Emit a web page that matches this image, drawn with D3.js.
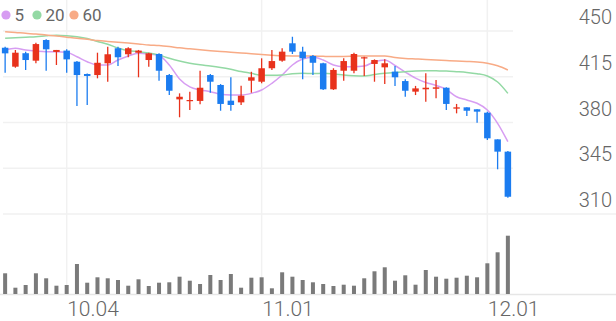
<!DOCTYPE html>
<html>
<head>
<meta charset="utf-8">
<script src="https://cdn.jsdelivr.net/npm/d3@7"></script>
<style>
  html, body { margin: 0; padding: 0; background: #fff; }
  svg { display: block; font-family: Roboto, "Noto Sans", sans-serif; }
</style>
</head>
<body>
<svg id="chart" width="616" height="321"></svg>
<script>
// ---- data ----
const opens  = [437.2,422.7,433,427.3,443.1,434,435,426.5,417.1,416.3,425.3,436.8,432.2,433.4,427.8,432.4,416.3,397.7,396.9,396.5,416.3,408.7,396.7,395.4,412,411.2,421.5,427.3,440.6,434.2,430.9,425.3,405.4,419.6,419.6,429.1,424.8,422.2,418.9,411.7,403.6,405.4,405.8,406.6,390.6,391.6,390.1,387.5,367.1,357.7];
const highs  = [438,435.5,434.2,441,443.7,435.5,436,427,417.5,433.4,438,438,437.5,435.5,433.4,432.9,417.1,402.3,403.6,419.6,417.1,409.4,414.6,408.2,418.8,429.1,435.5,436.8,445.6,438,431.6,425.7,421.5,429.1,433.4,430.3,428.3,428.3,423.2,413,408,417.6,412.5,406.9,394.2,391.6,390.1,388.3,367.1,358.2];
const lows   = [418,421.9,420.2,425.3,419.6,424,418,392.6,393.4,413.8,411.2,423.2,429.9,414.6,422.7,412,401,384,389.6,394,402.8,389,389,393.4,402.8,410,420.2,426.5,432.4,413,416.3,404.9,404.9,412,417.6,415.6,411.2,409.4,408,399.7,401,395.9,398.5,389.6,387,385,379.9,366.6,344.2,322.5];
const closes = [432.9,433.4,427.8,440,436,435.5,428.3,416.3,415.6,425.7,432.2,429.9,436.8,435,432.9,419.6,404.3,399.7,397.2,406.6,411.2,394.2,393.4,400.5,414.6,421.5,427,434.2,434.2,429.1,425.7,405.4,420.2,427,432.4,429.9,427.8,425.3,414.6,404.3,406.1,406.6,406.9,394.2,391.6,389,388.3,367.9,357.7,323.2];
const volumes = [207,63,90,207,157,83,90,300,113,167,157,140,83,147,80,113,117,173,133,100,190,140,200,63,163,167,57,217,173,140,117,100,80,93,83,157,227,267,133,187,93,240,173,153,163,183,167,307,417,583];
const ma5  = [435.5,436.8,435.5,434.7,434.2,434.2,433.7,430.3,426.5,424,424,427.8,430.9,432.9,432.4,431.3,424,413.3,407.2,404.9,403.6,401.6,401,401,402.3,404.9,410,416.3,424,428.6,429.9,427.8,424,422.7,422.7,423.2,426.5,427.8,423.6,418.6,414,410.6,408.3,405.2,399.7,397.2,394.7,389.6,379.4,365.3];
const ma20 = [444.4,444.9,445.3,445.6,446.3,446.8,446.4,445.6,444.3,442,439.9,437,434.9,434.2,433.2,431.6,429.1,427,425.3,424.1,423.2,422.1,420.7,419,417.6,416.1,416.1,416.3,417.3,417.6,417.5,417.6,417.1,416.3,415.8,415.6,416.7,417.6,418.3,418.9,419.4,419.6,419.5,419.4,418.9,418.3,417.3,415.6,411,402.3];
const ma60 = [449.5,448.9,448.2,447.7,446.9,446.2,445.3,444.4,443.7,442.7,442,441.4,440.8,440.1,439.3,438.9,438.1,437.1,436.4,435.6,434.9,434.3,433.8,433.2,432.6,432,431.5,431,430.9,430.9,430.9,430.6,430.4,430.5,430.7,430.9,430.9,430.9,429.7,429,428.6,428.2,427.8,427.4,427,426.7,426.3,425.3,423.4,420.2];
const priceTicks = [310, 345, 380, 415, 450];
const dateTickIndex = [6, 25, 47];
const dateTickLabels = ["10.04", "11.01", "12.01"];
const legendLabels = ["5", "20", "60"];

// ---- styles ----
const RED = "#e8321c", BLUE = "#1b7cf0";
const maColors = ["#d79df2", "#93d9a4", "#f8ab86"];
const gridColor = "#f1f1f1";

const svg = d3.select("#chart");
const n = closes.length;

const x = d3.scaleBand().domain(d3.range(n)).range([0, 513]).padding(0);
const cx = i => x(i) + x.bandwidth() / 2;
const y = d3.scaleLinear().domain([310, 450]).range([214, 31]);
const yv = d3.scaleLinear().domain([0, 750]).range([294, 219]);

// horizontal grid lines
svg.append("g").selectAll("line").data(priceTicks).join("line")
  .attr("x1", 3)
  .attr("x2", d => d === 310 ? 616 : 513)
  .attr("y1", d => y(d)).attr("y2", d => y(d))
  .attr("stroke", gridColor).attr("stroke-width", 1.5);

// vertical grid lines
svg.append("g").selectAll("line").data(dateTickIndex).join("line")
  .attr("x1", d => cx(d)).attr("x2", d => cx(d))
  .attr("y1", 0).attr("y2", 294)
  .attr("stroke", gridColor).attr("stroke-width", 1.5);

// volume baseline
svg.append("line")
  .attr("x1", 0).attr("x2", 616)
  .attr("y1", yv(0) + 0.5).attr("y2", yv(0) + 0.5)
  .attr("stroke", "#e6e6e6").attr("stroke-width", 1.5);

// price labels
svg.append("g").selectAll("text").data(priceTicks).join("text")
  .attr("x", 612).attr("y", d => y(d) - 7)
  .attr("text-anchor", "end")
  .attr("font-size", 20).attr("font-weight", 300)
  .attr("fill", "#666")
  .text(d => d);

// date labels
svg.append("g").selectAll("text").data(dateTickIndex).join("text")
  .attr("x", d => cx(d) + 0.5).attr("y", 316)
  .attr("font-size", 21).attr("font-weight", 300)
  .attr("fill", "#666")
  .text((d, i) => dateTickLabels[i]);

// moving average lines
const mas = [ma5, ma20, ma60];
const line = d3.line().x((d, i) => cx(i)).y(d => y(d)).curve(d3.curveMonotoneX);
svg.append("g").selectAll("path").data(mas).join("path")
  .attr("d", d => line(d))
  .attr("fill", "none")
  .attr("stroke", (d, i) => maColors[i])
  .attr("stroke-width", 1.5);

// candles
const idx = d3.range(n);
const col = i => closes[i] >= opens[i] ? RED : BLUE;
const cg = svg.append("g");
cg.selectAll("line").data(idx).join("line")
  .attr("x1", i => cx(i)).attr("x2", i => cx(i))
  .attr("y1", i => y(highs[i])).attr("y2", i => y(lows[i]))
  .attr("stroke", col).attr("stroke-width", 1.3);
const bw = 6.5;
cg.selectAll("rect").data(idx).join("rect")
  .attr("x", i => cx(i) - bw / 2)
  .attr("width", bw)
  .attr("y", i => y(Math.max(opens[i], closes[i])))
  .attr("height", i => Math.max(1.2, Math.abs(y(opens[i]) - y(closes[i]))))
  .attr("fill", col);

// volume bars
svg.append("g").selectAll("rect").data(volumes).join("rect")
  .attr("x", (d, i) => cx(i) - 2)
  .attr("width", 4)
  .attr("y", d => yv(d))
  .attr("height", d => yv(0) - yv(d))
  .attr("fill", "#7a7a7a");

// legend
const legX = [6, 37, 74];
const lg = svg.append("g");
lg.selectAll("circle").data(legendLabels).join("circle")
  .attr("cx", (d, i) => legX[i]).attr("cy", 15).attr("r", 4.6)
  .attr("fill", (d, i) => maColors[i]);
lg.selectAll("text").data(legendLabels).join("text")
  .attr("x", (d, i) => legX[i] + 8.5).attr("y", 21)
  .attr("font-size", 17).attr("fill", "#666")
  .text(d => d);
</script>
</body>
</html>
